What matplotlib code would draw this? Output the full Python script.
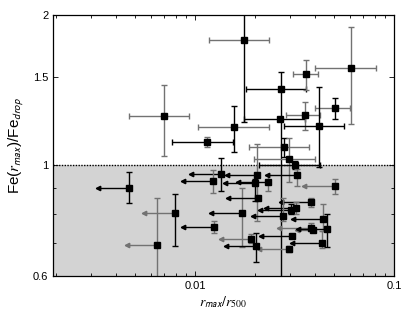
import numpy as np
import matplotlib
matplotlib.use('Agg')
import matplotlib.pyplot as plt
from matplotlib.ticker import FixedLocator, NullFormatter, LogLocator

plt.rcParams['font.family'] = ['Liberation Sans', 'DejaVu Sans']
plt.rcParams['mathtext.fontset'] = 'stix'

# ---- detections (with two-sided x errors) ----
det_x   = [0.00698, 0.01572, 0.01148, 0.01764, 0.02714, 0.0266, 0.02797, 0.02985, 0.03173, 0.03618, 0.06073, 0.0503, 0.0356, 0.04217]
det_y   = [1.255, 1.191, 1.112, 1.781, 1.420, 1.236, 1.087, 1.030, 1.002, 1.524, 1.567, 1.300, 1.261, 1.200]
det_xlo = [0.00466, 0.01039, 0.00765, 0.01171, 0.01805, 0.01764, 0.01869, 0.01979, 0.02097, 0.03101, 0.04027, 0.0400, 0.02851, 0.0280]
det_xhi = [0.00936, 0.02353, 0.01543, 0.02353, 0.03618, 0.0356, 0.03728, 0.0400, 0.04232, 0.04135, 0.08128, 0.06045, 0.04266, 0.05642]
det_ylo = [1.042, 1.062, 1.087, 1.220, 0.50, 1.236, 1.038, 0.924, 0.985, 1.413, 1.211, 1.240, 1.178, 0.994]
det_yhi = [1.451, 1.317, 1.138, 2.20, 1.538, 1.236, 1.135, 1.135, 1.020, 1.629, 1.889, 1.366, 1.337, 1.438]

# ---- upper limits in x (arrows pointing left) ----
lim_x    = [0.00464, 0.00788, 0.00643, 0.01354, 0.01226, 0.01718, 0.0124, 0.01905, 0.02018,
            0.02058, 0.02002, 0.02326, 0.02073, 0.03273, 0.0507, 0.03815, 0.03236, 0.0303,
            0.02777, 0.044, 0.03815, 0.03922, 0.04624, 0.0308, 0.04365, 0.02961]
lim_y    = [0.901, 0.801, 0.693, 0.962, 0.930, 0.804, 0.752, 0.713, 0.688,
            0.955, 0.922, 0.924, 0.860, 0.956, 0.907, 0.845, 0.823, 0.815,
            0.792, 0.782, 0.750, 0.743, 0.744, 0.722, 0.699, 0.679]
lim_xtip = [0.00326, 0.00553, 0.00452, 0.00955, 0.00868, 0.01202, 0.00874, 0.01349, 0.01429,
            0.01445, 0.01413, 0.01635, 0.01457, 0.0231, 0.03548, 0.02692, 0.02265, 0.02121,
            0.01965, 0.03115, 0.0264, 0.0326, 0.033, 0.02138, 0.0308, 0.02097]
lim_ylo  = [0.840, 0.688, 0.50, 0.889, 0.882, 0.686, 0.733, 0.700, 0.640,
            0.774, 0.850, 0.889, 0.860, 0.907, 0.876, 0.826, 0.798, 0.798,
            0.772, 0.739, 0.739, 0.743, 0.686, 0.722, 0.682, 0.669]
lim_yhi  = [0.968, 0.876, 0.862, 1.035, 0.979, 0.901, 0.772, 0.730, 0.733,
            1.104, 0.940, 0.955, 0.860, 0.984, 0.939, 0.862, 0.845, 0.836,
            0.860, 0.836, 0.768, 0.743, 0.798, 0.722, 0.739, 0.688]

# style: error-bar colour per point ('k' black, 'g' grey)
det_xc = list('ggkgkkggkggggk')
det_yc = list('gkgkkkkgkggkgk')
lim_xc = list('kggkkkkgkkkkkkgkkkkkggkkkg')
lim_yc = list('kkgkggggkgkgkggggkggggkkgg')

GREY = '#727272'
col = {'k': 'black', 'g': GREY}

fig = plt.figure(figsize=(4.15, 3.13), dpi=100)
ax = fig.add_axes([0.128, 0.118, 0.821, 0.834])
ax.set_xscale('log')
ax.set_yscale('log')
ax.set_xlim(0.00193, 0.1)
ax.set_ylim(0.6, 2.0)

ax.axhspan(0.5, 1.0, color='#d3d3d3', zorder=0, lw=0)
ax.axhline(1.0, color='black', ls=(0, (1, 1)), lw=1.0, zorder=1)

lw = 1.0
cs = 2.0
for i in range(len(det_x)):
    x, y = det_x[i], det_y[i]
    ax.errorbar([x], [y], xerr=[[x - det_xlo[i]], [det_xhi[i] - x]], fmt='none',
                ecolor=col[det_xc[i]], elinewidth=lw, capsize=cs, capthick=lw, zorder=2)
    if det_yhi[i] > det_ylo[i]:
        ax.errorbar([x], [y], yerr=[[y - det_ylo[i]], [det_yhi[i] - y]], fmt='none',
                    ecolor=col[det_yc[i]], elinewidth=lw, capsize=cs, capthick=lw, zorder=2)

for i in range(len(lim_x)):
    x, y = lim_x[i], lim_y[i]
    c = col[lim_xc[i]]
    ax.plot([lim_xtip[i], x], [y, y], color=c, lw=lw, zorder=2, solid_capstyle='butt')
    ax.plot([lim_xtip[i]], [y], marker='<', ms=3.2, color=c, mec=c, zorder=2)
    if lim_yhi[i] > lim_ylo[i]:
        ax.errorbar([x], [y], yerr=[[y - lim_ylo[i]], [lim_yhi[i] - y]], fmt='none',
                    ecolor=col[lim_yc[i]], elinewidth=lw, capsize=cs, capthick=lw, zorder=2)

ax.plot(det_x, det_y, 's', color='black', ms=3.8, zorder=4)
ax.plot(lim_x, lim_y, 's', color='black', ms=3.8, zorder=4)

ax.xaxis.set_major_locator(FixedLocator([0.01, 0.1]))
ax.set_xticklabels(['0.01', '0.1'])
ax.xaxis.set_minor_locator(LogLocator(base=10, subs=np.arange(2, 10)))
ax.xaxis.set_minor_formatter(NullFormatter())
ax.yaxis.set_major_locator(FixedLocator([0.6, 1.0, 1.5, 2.0]))
ax.set_yticklabels(['0.6', '1', '1.5', '2'])
ax.yaxis.set_minor_locator(FixedLocator([0.7, 0.8, 0.9]))
ax.yaxis.set_minor_formatter(NullFormatter())

ax.tick_params(which='both', direction='in', top=True, right=True, labelsize=8, width=0.6)
ax.tick_params(which='major', length=3.5)
ax.tick_params(which='minor', length=2)
for s in ax.spines.values():
    s.set_linewidth(0.9)

ax.set_xlabel(r'$r_{\mathsf{max}}/r_{500}$', fontsize=10, labelpad=2)
ax.set_ylabel(r'Fe($r_{\mathsf{max}}$)/Fe$_{\mathsf{drop}}$', fontsize=11, labelpad=6)

fig.savefig('out.png', dpi=100)
